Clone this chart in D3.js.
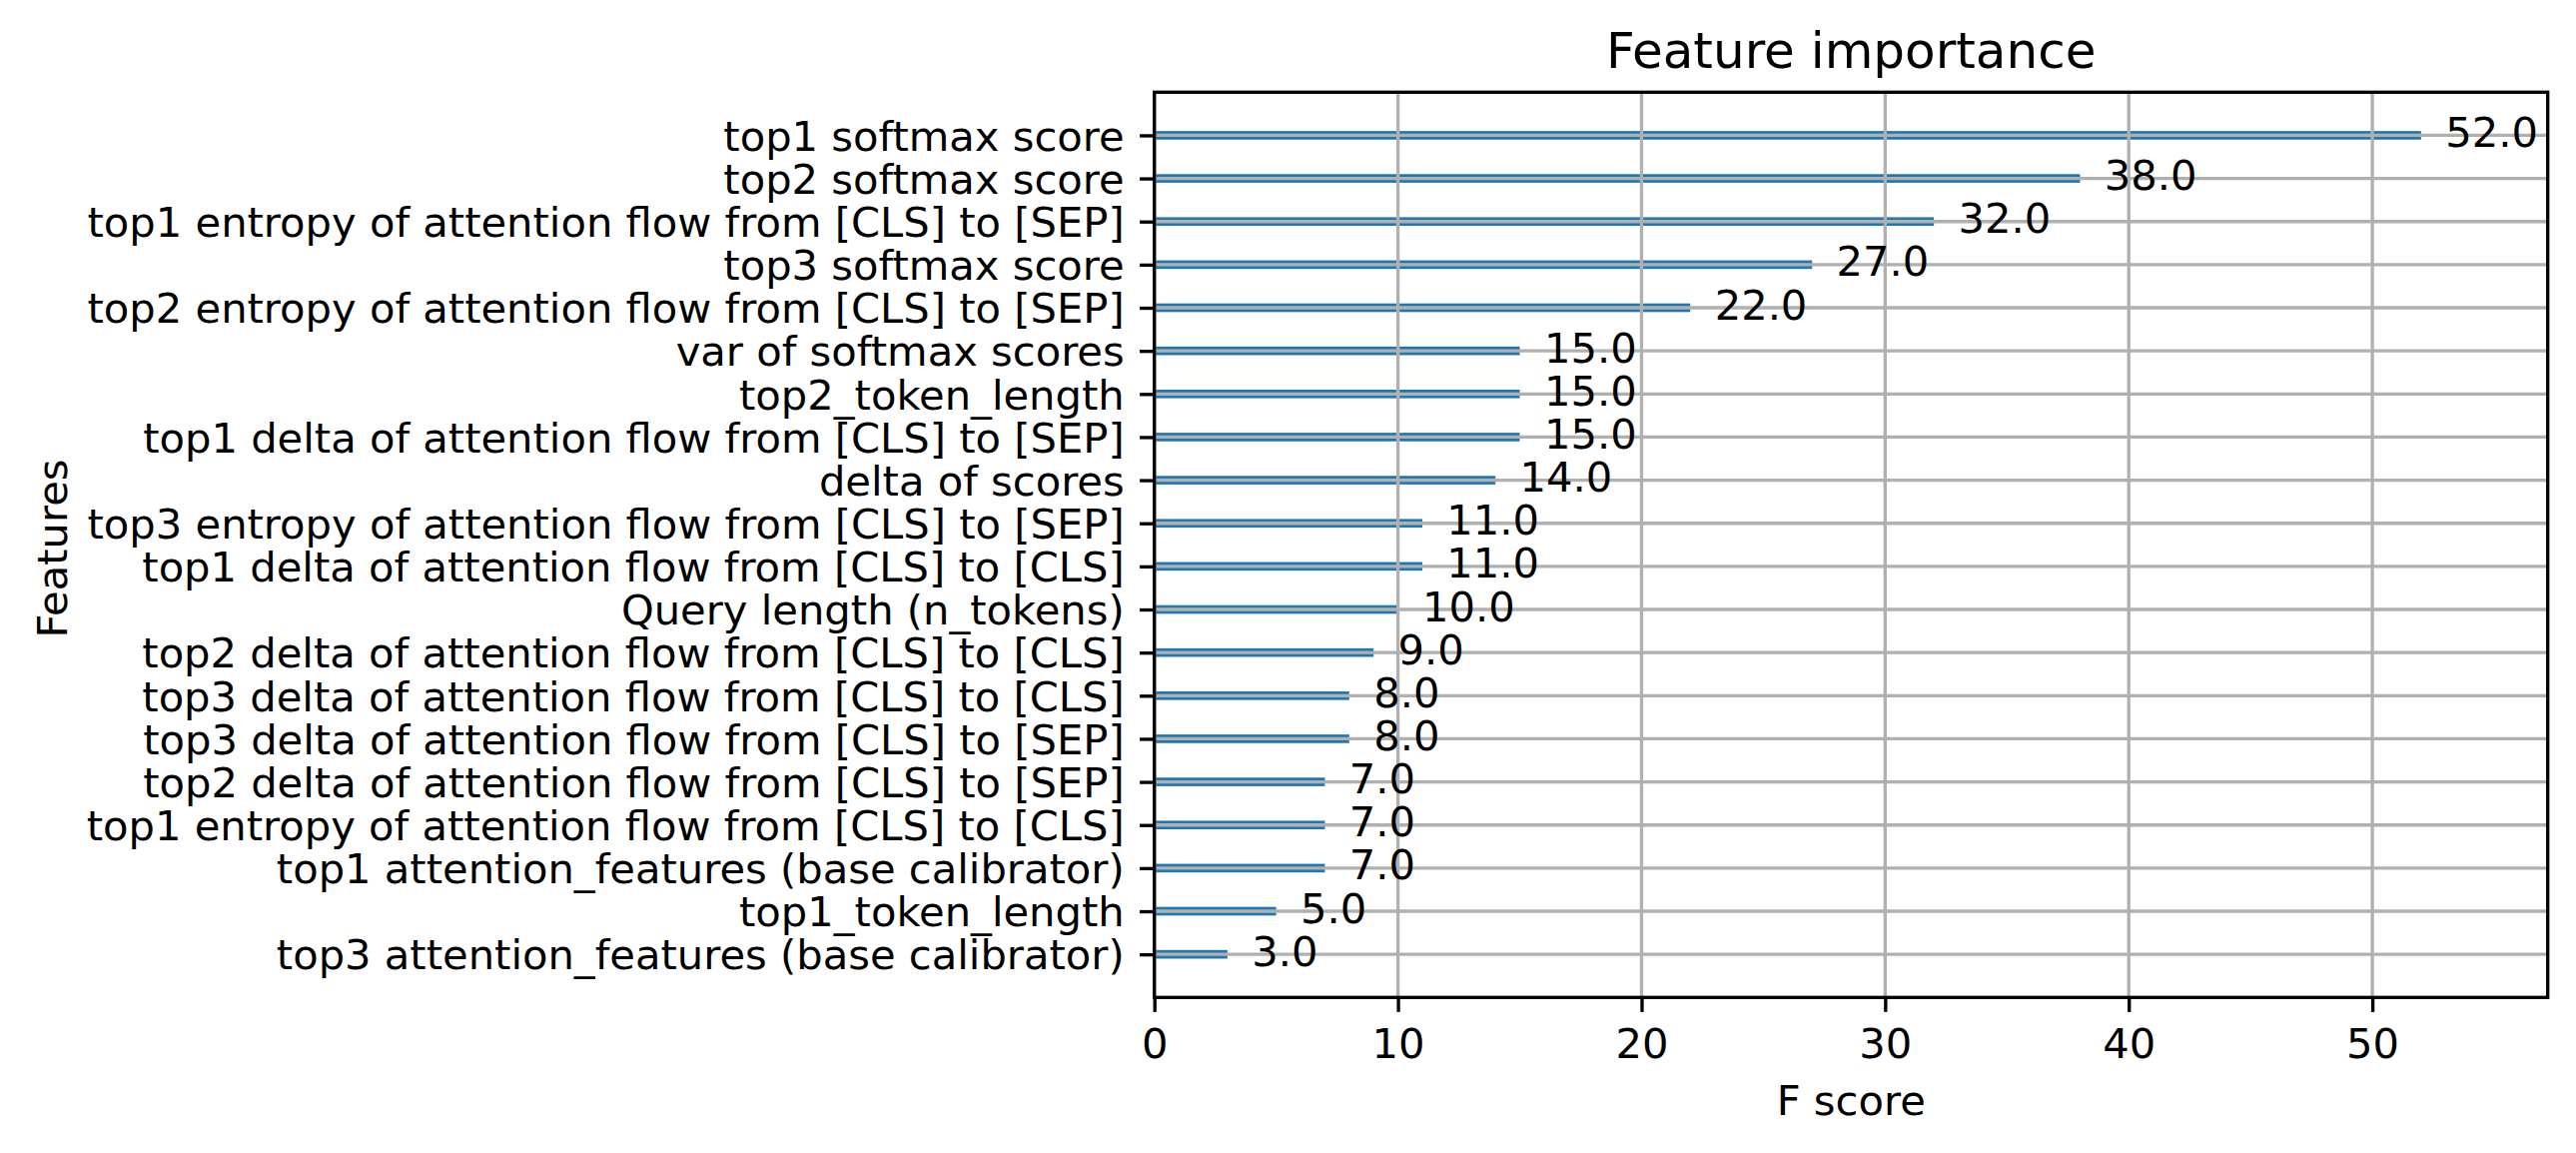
<!DOCTYPE html>
<html>
<head>
<meta charset="utf-8">
<script src="https://cdn.jsdelivr.net/npm/d3@7"></script>
<style>
html,body{margin:0;padding:0;background:#fff;}
svg{display:block;font-family:"DejaVu Sans",sans-serif;}
</style>
</head>
<body>
<svg id="chart" width="2579" height="1154"></svg>
<script>
// Data (top to bottom as displayed)
const features = [
  "top1 softmax score",
  "top2 softmax score",
  "top1 entropy of attention flow from [CLS] to [SEP]",
  "top3 softmax score",
  "top2 entropy of attention flow from [CLS] to [SEP]",
  "var of softmax scores",
  "top2_token_length",
  "top1 delta of attention flow from [CLS] to [SEP]",
  "delta of scores",
  "top3 entropy of attention flow from [CLS] to [SEP]",
  "top1 delta of attention flow from [CLS] to [CLS]",
  "Query length (n_tokens)",
  "top2 delta of attention flow from [CLS] to [CLS]",
  "top3 delta of attention flow from [CLS] to [CLS]",
  "top3 delta of attention flow from [CLS] to [SEP]",
  "top2 delta of attention flow from [CLS] to [SEP]",
  "top1 entropy of attention flow from [CLS] to [CLS]",
  "top1 attention_features (base calibrator)",
  "top1_token_length",
  "top3 attention_features (base calibrator)"
];
const fscores = [52, 38, 32, 27, 22, 15, 15, 15, 14, 11, 11, 10, 9, 8, 8, 7, 7, 7, 5, 3];
const xTicks = [0, 10, 20, 30, 40, 50];
const titleText = "Feature importance";
const xLabelText = "F score";
const yLabelText = "Features";

const L = 1155.7, R = 2550.7, T = 92.3, B = 998.3;
const fs = 41.67;
const lw = 3.33;
const n = features.length;
const pos = i => n - 1 - i;

const svg = d3.select("#chart");
const x = d3.scaleLinear().domain([0, d3.max(fscores) * 1.1]).range([L, R]);
const y = d3.scaleLinear().domain([-1, n]).range([B, T]);

// Bars
svg.append("g").selectAll("rect").data(fscores).join("rect")
  .attr("x", x(0))
  .attr("y", (d, i) => y(pos(i) + 0.1))
  .attr("width", d => x(d) - x(0))
  .attr("height", (d, i) => y(pos(i) - 0.1) - y(pos(i) + 0.1))
  .attr("fill", "#1f77b4");

// Grid (on top of bars)
const grid = svg.append("g").attr("stroke", "#b0b0b0").attr("stroke-width", lw);
grid.selectAll("line.v").data(xTicks).join("line").attr("class", "v")
  .attr("x1", d => x(d)).attr("x2", d => x(d)).attr("y1", T).attr("y2", B);
grid.selectAll("line.h").data(d3.range(n)).join("line").attr("class", "h")
  .attr("y1", d => y(d)).attr("y2", d => y(d)).attr("x1", L).attr("x2", R);

// Value labels
svg.append("g").selectAll("text").data(fscores).join("text")
  .attr("x", d => x(d + 1))
  .attr("y", (d, i) => y(pos(i)) + 11.6)
  .attr("font-size", fs)
  .attr("fill", "#000")
  .text(d => d.toFixed(1));

// Axes
const xAxis = d3.axisBottom(x).tickValues(xTicks).tickSize(14.6).tickPadding(14.6).tickFormat(d3.format("d"));
const gx = svg.append("g").attr("transform", `translate(0,${B})`).call(xAxis);
gx.select(".domain").remove();
gx.selectAll(".tick line").attr("stroke", "#000").attr("stroke-width", lw);
gx.selectAll(".tick text").attr("font-family", "DejaVu Sans").attr("font-size", fs).attr("fill", "#000")
  .attr("y", 61).attr("dy", null);

const yAxis = d3.axisLeft(y).tickValues(d3.range(n)).tickSize(14.6).tickPadding(14.6)
  .tickFormat(v => features[n - 1 - v]);
const gy = svg.append("g").attr("transform", `translate(${L},0)`).call(yAxis);
gy.select(".domain").remove();
gy.selectAll(".tick line").attr("stroke", "#000").attr("stroke-width", lw);
gy.selectAll(".tick text").attr("font-family", "DejaVu Sans").attr("font-size", fs).attr("fill", "#000")
  .attr("x", -30).attr("dy", 14.7);

// Spines
svg.append("rect").attr("x", L).attr("y", T).attr("width", R - L).attr("height", B - T)
  .attr("fill", "none").attr("stroke", "#000").attr("stroke-width", lw).attr("stroke-linejoin", "miter");

// Title and labels
svg.append("text").attr("x", (L + R) / 2).attr("y", 67.5).attr("text-anchor", "middle")
  .attr("font-size", 50).attr("fill", "#000").text(titleText);
svg.append("text").attr("x", (L + R) / 2).attr("y", 1116).attr("text-anchor", "middle")
  .attr("font-size", fs).attr("fill", "#000").text(xLabelText);
svg.append("text").attr("transform", `translate(66.5,549) rotate(-90)`).attr("text-anchor", "middle")
  .attr("font-size", fs).attr("fill", "#000").text(yLabelText);
</script>
</body>
</html>
